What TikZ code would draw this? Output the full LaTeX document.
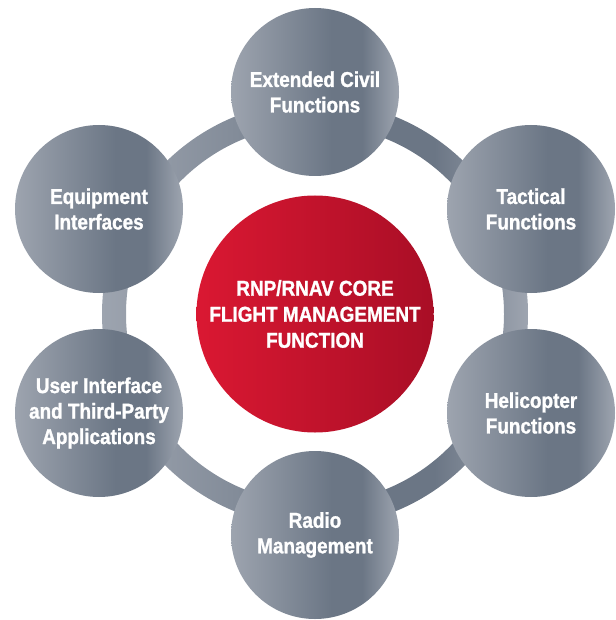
\documentclass[tikz,border=0pt]{standalone}
\usepackage{fontspec}
\newfontfamily\condfont[FakeStretch=0.88,FakeBold=1.2]{Liberation Sans}
\definecolor{gl}{HTML}{9DA4AF}
\definecolor{gd}{HTML}{6B7685}
\definecolor{gr}{HTML}{9EA5B0}
\definecolor{rl}{HTML}{DA1832}
\definecolor{rr}{HTML}{A90E26}
\pgfdeclarehorizontalshading{greyshade}{100bp}{color(0bp)=(gl); color(25bp)=(gl); color(55bp)=(gd); color(64bp)=(gd); color(75bp)=(gr); color(100bp)=(gr)}
\pgfdeclarehorizontalshading{redshade}{100bp}{color(0bp)=(rl); color(25bp)=(rl); color(75bp)=(rr); color(100bp)=(rr)}
\begin{document}
\begin{tikzpicture}[x=1pt,y=-1pt,
  outer/.style={circle, minimum size=168pt, inner sep=0pt, shading=greyshade, text=white, align=center,
    font=\condfont\bfseries\fontsize{21.5}{25.5}\selectfont},
  core/.style={circle, minimum size=237pt, inner sep=0pt, shading=redshade, text=white, align=center,
    font=\condfont\bfseries\fontsize{21.5}{26}\selectfont}]
\useasboundingbox (0,0) rectangle (615,620);
\coordinate (c) at (315,314);
\shade[shading=greyshade, even odd rule] (c) circle[radius=213pt] (c) circle[radius=189pt];
\node[outer] (ext) at (315,92) {Extended Civil\\Functions};
\node[outer] (equ) at (99,209) {Equipment\\Interfaces};
\node[outer] (tac) at (531,209) {Tactical\\Functions};
\node[outer] (usr) at (99,413) {User Interface\\and Third-Party\\Applications};
\node[outer] (hel) at (531,413) {Helicopter\\Functions};
\node[outer] (rad) at (315,535) {Radio\\Management};
\node[core] (core) at (c) {RNP/RNAV CORE\\FLIGHT MANAGEMENT\\FUNCTION};
\end{tikzpicture}
\end{document}
